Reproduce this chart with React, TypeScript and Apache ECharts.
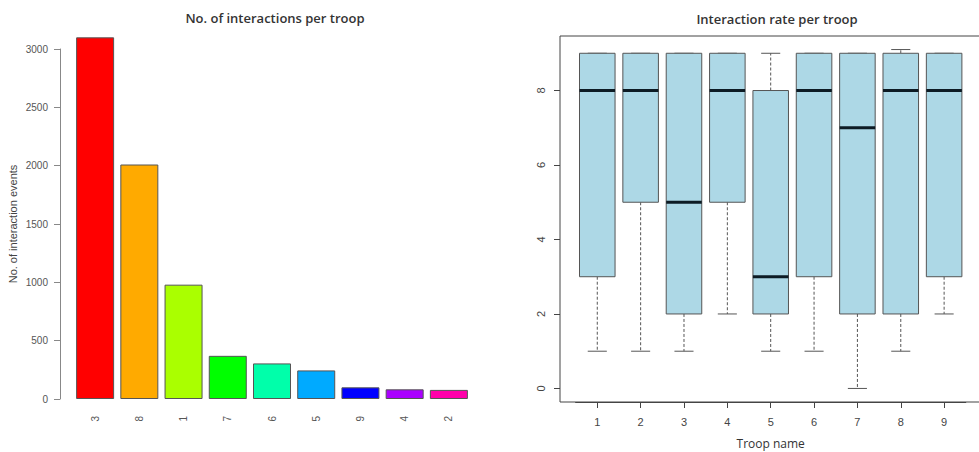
import React, { useEffect, useRef } from "react";
import * as echarts from "echarts";

// Left chart: number of interactions per troop (sorted)
const barTroops = ["3", "8", "1", "7", "6", "5", "9", "4", "2"];
const interactionCounts = [3100, 2010, 980, 370, 305, 245, 100, 83, 78];
const barTicks = [0, 500, 1000, 1500, 2000, 2500, 3000];

// Right chart: interaction rate per troop (box plot stats)
const boxTroops = ["1", "2", "3", "4", "5", "6", "7", "8", "9"];
const whiskerLow = [1, 1, 1, 2, 1, 1, 0, 1, 2];
const q1 = [3, 5, 2, 5, 2, 3, 2, 2, 3];
const median = [8, 8, 5, 8, 3, 8, 7, 8, 8];
const q3 = [9, 9, 9, 9, 8, 9, 9, 9, 9];
const whiskerHigh = [9, 9, 9, 9, 9, 9, 9, 9.1, 9];
const rateTicks = [0, 2, 4, 6, 8];

const rainbow9 = ["#FF0000", "#FFAA00", "#AAFF00", "#00FF00", "#00FFAA", "#00AAFF", "#0000FF", "#AA00FF", "#FF00AA"];

const FONT = "'Liberation Sans', Arial, sans-serif";
const TITLE_FONT = "'Open Sans', 'Noto Sans', sans-serif";

export default function App() {
  const ref = useRef<HTMLDivElement>(null);
  useEffect(() => {
    if (!ref.current) return;
    const chart = echarts.init(ref.current, undefined, { renderer: "svg" });
    const boxData = boxTroops.map((_, i) => [i, whiskerLow[i], q1[i], median[i], q3[i], whiskerHigh[i]]);
    const option: any = {
      animation: false,
      backgroundColor: "#ffffff",
      title: [
        {
          text: "No. of interactions per troop",
          left: 270,
          top: 6,
          textAlign: "center",
          textStyle: { fontFamily: TITLE_FONT, fontSize: 13, fontWeight: 600, color: "#333" },
        },
        {
          text: "Interaction rate per troop",
          left: 772,
          top: 7,
          textAlign: "center",
          textStyle: { fontFamily: TITLE_FONT, fontSize: 13, fontWeight: 600, color: "#333" },
        },
      ],
      graphic: [
        {
          type: "rect",
          shape: { x: 560, y: 36, width: 424, height: 366 },
          style: { fill: "none", stroke: "#444", lineWidth: 1 },
          silent: true,
          z: 10,
        },
      ],
      grid: [
        { left: 73, width: 398, top: 49, height: 350, outerBoundsMode: "none", containLabel: false },
        { left: 575.6, width: 390.2, top: 36, height: 366, outerBoundsMode: "none", containLabel: false },
      ],
      xAxis: [
        {
          type: "category",
          gridIndex: 0,
          data: barTroops,
          axisLine: { show: false },
          axisTick: { show: false },
          axisLabel: { rotate: 90, margin: 17, fontSize: 10, color: "#555", fontFamily: FONT },
        },
        {
          type: "category",
          gridIndex: 1,
          data: boxTroops,
          boundaryGap: true,
          position: "bottom",
          axisLine: { show: true, onZero: false, lineStyle: { color: "#444" } },
          axisTick: { show: true, alignWithLabel: true, length: 6, lineStyle: { color: "#444" } },
          axisLabel: { margin: 14, fontSize: 11, color: "#444", fontFamily: FONT },
          name: "Troop name",
          nameLocation: "middle",
          nameGap: 35,
          nameTextStyle: { fontSize: 12, color: "#333", fontFamily: TITLE_FONT },
        },
      ],
      yAxis: [
        {
          type: "value",
          gridIndex: 0,
          min: 0,
          max: 3000,
          interval: 500,
          offset: 13,
          splitLine: { show: false },
          axisLine: { show: true, lineStyle: { color: "#888" } },
          axisTick: { show: true, length: 6, lineStyle: { color: "#888" } },
          axisLabel: {
            margin: 12,
            fontSize: 10,
            color: "#555",
            fontFamily: FONT,
            formatter: (v: number) => String(v),
          },
          name: "No. of interaction events",
          nameLocation: "middle",
          nameRotate: 90,
          nameGap: 42,
          nameTextStyle: { fontSize: 11, color: "#444", fontFamily: FONT },
        },
        {
          type: "value",
          gridIndex: 1,
          min: -0.364,
          max: 9.464,
          offset: 15.6,
          splitLine: { show: false },
          axisLine: { show: false, onZero: false },
          axisTick: { show: true, length: 6, lineStyle: { color: "#444" }, customValues: rateTicks },
          axisLabel: {
            rotate: 90,
            margin: 14,
            fontSize: 11,
            color: "#444",
            fontFamily: FONT,
            customValues: rateTicks,
            formatter: (v: number) => String(v),
          },
        },
      ],
      series: [
        {
          type: "bar",
          xAxisIndex: 0,
          yAxisIndex: 0,
          barWidth: 38,
          clip: false,
          data: interactionCounts.map((v, i) => ({
            value: v,
            itemStyle: { color: rainbow9[i], borderColor: "#555", borderWidth: 1 },
          })),
        },
        {
          type: "custom",
          xAxisIndex: 1,
          yAxisIndex: 1,
          clip: false,
          encode: { x: 0, y: [1, 2, 3, 4, 5] },
          data: boxData,
          renderItem: (params: any, api: any) => {
            const idx = api.value(0);
            const pLow = api.coord([idx, api.value(1)]);
            const pQ1 = api.coord([idx, api.value(2)]);
            const pMed = api.coord([idx, api.value(3)]);
            const pQ3 = api.coord([idx, api.value(4)]);
            const pHigh = api.coord([idx, api.value(5)]);
            const band = api.size([1, 0])[0];
            const bw = band * 0.82;
            const cw = band * 0.44;
            const cx = pMed[0];
            const whiskerStyle = { stroke: "#555", lineWidth: 1, lineDash: [3, 2] };
            const capStyle = { stroke: "#555", lineWidth: 1 };
            return {
              type: "group",
              children: [
                { type: "line", shape: { x1: cx, y1: pQ3[1], x2: cx, y2: pHigh[1] }, style: whiskerStyle },
                { type: "line", shape: { x1: cx, y1: pQ1[1], x2: cx, y2: pLow[1] }, style: whiskerStyle },
                { type: "line", shape: { x1: cx - cw / 2, y1: pHigh[1], x2: cx + cw / 2, y2: pHigh[1] }, style: capStyle },
                { type: "line", shape: { x1: cx - cw / 2, y1: pLow[1], x2: cx + cw / 2, y2: pLow[1] }, style: capStyle },
                {
                  type: "rect",
                  shape: { x: cx - bw / 2, y: pQ3[1], width: bw, height: pQ1[1] - pQ3[1] },
                  style: { fill: "#ADD8E6", stroke: "#555", lineWidth: 1 },
                },
                {
                  type: "line",
                  shape: { x1: cx - bw / 2, y1: pMed[1], x2: cx + bw / 2, y2: pMed[1] },
                  style: { stroke: "#0d1b24", lineWidth: 3 },
                },
              ],
            };
          },
        },
      ],
    };
    chart.setOption(option);
    return () => chart.dispose();
  }, []);
  return <div ref={ref} style={{ position: "fixed", left: 0, top: 0, width: 979, height: 452 }} />;
}
